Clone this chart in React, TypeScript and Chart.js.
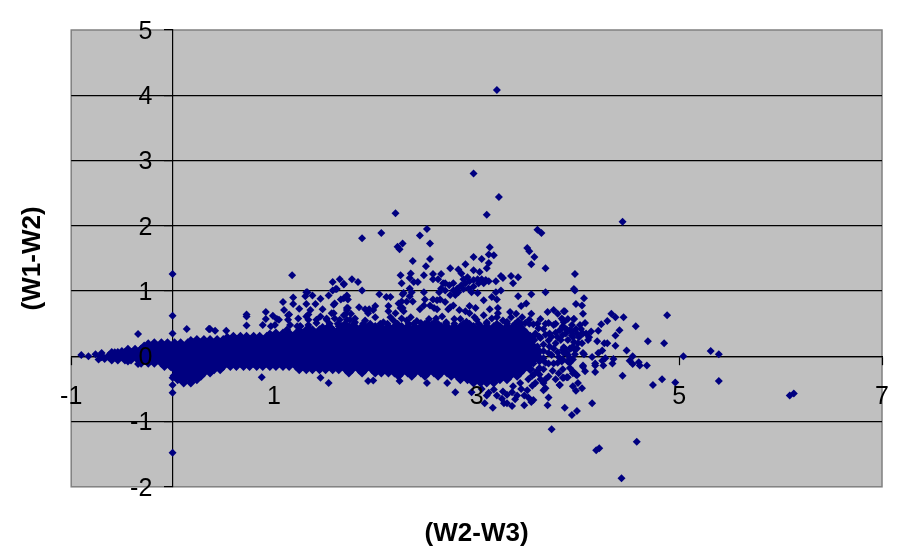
import { useEffect, useRef } from "react";
import { Chart, registerables } from "chart.js";

Chart.register(...registerables);

const xTickValues = [-1, 1, 3, 5, 7];
const xTitle = "(W2-W3)";
const yTitle = "(W1-W2)";

// Saturated core of the cloud: estimated positions, one list of x values per y level.
const coreLevels = [0.45, 0.4, 0.35, 0.3, 0.25, 0.2, 0.15, 0.1, 0.05, 0, -0.05, -0.1, -0.15, -0.2, -0.25, -0.3, -0.35, -0.4];
const coreP45 = [1.54,1.67,1.74,1.8,1.87,1.93,2,2.06,2.13,2.19,2.26,2.32,2.39,2.45,2.52,2.58,2.65,2.71,2.78,2.84,2.91,2.97,3.04,3.1,3.17,3.23,3.3,3.36,3.43];
const coreP40 = [1.32,1.38,1.45,1.51,1.58,1.64,1.71,1.77,1.84,1.9,1.97,2.03,2.1,2.16,2.23,2.29,2.36,2.42,2.49,2.55,2.62,2.68,2.75,2.81,2.88,2.94,3.01,3.07,3.14,3.2,3.27,3.33,3.4,3.46];
const coreP35 = [1.02,1.09,1.15,1.22,1.28,1.35,1.41,1.48,1.54,1.61,1.67,1.74,1.8,1.87,1.93,2,2.06,2.13,2.19,2.26,2.32,2.39,2.45,2.52,2.58,2.65,2.71,2.78,2.84,2.91,2.97,3.04,3.1,3.17,3.23,3.3,3.36,3.43,3.49];
const coreP30 = [0.6,0.67,0.73,0.8,0.86,0.93,0.99,1.06,1.12,1.19,1.25,1.32,1.38,1.45,1.51,1.58,1.64,1.71,1.77,1.84,1.9,1.97,2.03,2.1,2.16,2.23,2.29,2.36,2.42,2.49,2.55,2.62,2.68,2.75,2.81,2.88,2.94,3.01,3.07,3.14,3.2,3.27,3.33,3.4,3.46,3.53];
const coreP25 = [0.24,0.31,0.37,0.44,0.5,0.57,0.63,0.7,0.76,0.83,0.89,0.96,1.02,1.09,1.15,1.22,1.28,1.35,1.41,1.48,1.54,1.61,1.67,1.74,1.8,1.87,1.93,2,2.06,2.13,2.19,2.26,2.32,2.39,2.45,2.52,2.58,2.65,2.71,2.78,2.84,2.91,2.97,3.04,3.1,3.17,3.23,3.3,3.36,3.43,3.49,3.56];
const coreP20 = [-0.18,-0.11,-0.05,0.02,0.08,0.15,0.21,0.28,0.34,0.41,0.47,0.54,0.6,0.67,0.73,0.8,0.86,0.93,0.99,1.06,1.12,1.19,1.25,1.32,1.38,1.45,1.51,1.58,1.64,1.71,1.77,1.84,1.9,1.97,2.03,2.1,2.16,2.23,2.29,2.36,2.42,2.49,2.55,2.62,2.68,2.75,2.81,2.88,2.94,3.01,3.07,3.14,3.2,3.27,3.33,3.4,3.46,3.53];
const coreP15 = [-0.28,-0.21,-0.15,-0.08,-0.02,0.05,0.11,0.18,0.24,0.31,0.37,0.44,0.5,0.57,0.63,0.7,0.76,0.83,0.89,0.96,1.02,1.09,1.15,1.22,1.28,1.35,1.41,1.48,1.54,1.61,1.67,1.74,1.8,1.87,1.93,2,2.06,2.13,2.19,2.26,2.32,2.39,2.45,2.52,2.58,2.65,2.71,2.78,2.84,2.91,2.97,3.04,3.1,3.17,3.23,3.3,3.36,3.43,3.49,3.56];
const coreP10 = [-0.44,-0.37,-0.31,-0.24,-0.18,-0.11,-0.05,0.02,0.08,0.15,0.21,0.28,0.34,0.41,0.47,0.54,0.6,0.67,0.73,0.8,0.86,0.93,0.99,1.06,1.12,1.19,1.25,1.32,1.38,1.45,1.51,1.58,1.64,1.71,1.77,1.84,1.9,1.97,2.03,2.1,2.16,2.23,2.29,2.36,2.42,2.49,2.55,2.62,2.68,2.75,2.81,2.88,2.94,3.01,3.07,3.14,3.2,3.27,3.33,3.4,3.46,3.53,3.6];
const coreP05 = [-0.6,-0.54,-0.47,-0.41,-0.34,-0.28,-0.21,-0.15,-0.08,-0.02,0.05,0.11,0.18,0.24,0.31,0.37,0.44,0.5,0.57,0.63,0.7,0.76,0.83,0.89,0.96,1.02,1.09,1.15,1.22,1.28,1.35,1.41,1.48,1.54,1.61,1.67,1.74,1.8,1.87,1.93,2,2.06,2.13,2.19,2.26,2.32,2.39,2.45,2.52,2.58,2.65,2.71,2.78,2.84,2.91,2.97,3.04,3.1,3.17,3.23,3.3,3.36,3.43,3.49,3.56];
const coreZ00 = [-0.7,-0.63,-0.57,-0.5,-0.44,-0.37,-0.31,-0.24,-0.18,-0.11,-0.05,0.02,0.08,0.15,0.21,0.28,0.34,0.41,0.47,0.54,0.6,0.67,0.73,0.8,0.86,0.93,0.99,1.06,1.12,1.19,1.25,1.32,1.38,1.45,1.51,1.58,1.64,1.71,1.77,1.84,1.9,1.97,2.03,2.1,2.16,2.23,2.29,2.36,2.42,2.49,2.55,2.62,2.68,2.75,2.81,2.88,2.94,3.01,3.07,3.14,3.2,3.27,3.33,3.4,3.46,3.53,3.6];
const coreN05 = [-0.6,-0.54,-0.47,-0.41,-0.34,-0.28,-0.21,-0.15,-0.08,-0.02,0.05,0.11,0.18,0.24,0.31,0.37,0.44,0.5,0.57,0.63,0.7,0.76,0.83,0.89,0.96,1.02,1.09,1.15,1.22,1.28,1.35,1.41,1.48,1.54,1.61,1.67,1.74,1.8,1.87,1.93,2,2.06,2.13,2.19,2.26,2.32,2.39,2.45,2.52,2.58,2.65,2.71,2.78,2.84,2.91,2.97,3.04,3.1,3.17,3.23,3.3,3.36,3.43,3.49,3.56];
const coreN10 = [-0.31,-0.24,-0.18,-0.11,-0.05,0.02,0.08,0.15,0.21,0.28,0.34,0.41,0.47,0.54,0.6,0.67,0.73,0.8,0.86,0.93,0.99,1.06,1.12,1.19,1.25,1.32,1.38,1.45,1.51,1.58,1.64,1.71,1.77,1.84,1.9,1.97,2.03,2.1,2.16,2.23,2.29,2.36,2.42,2.49,2.55,2.62,2.68,2.75,2.81,2.88,2.94,3.01,3.07,3.14,3.2,3.27,3.33,3.4,3.46,3.53];
const coreN15 = [-0.08,-0.02,0.05,0.11,0.18,0.24,0.31,0.37,0.44,0.5,0.57,0.63,0.7,0.76,0.83,0.89,0.96,1.02,1.09,1.15,1.22,1.28,1.35,1.41,1.48,1.54,1.61,1.67,1.74,1.8,1.87,1.93,2,2.06,2.13,2.19,2.26,2.32,2.39,2.45,2.52,2.58,2.65,2.71,2.78,2.84,2.91,2.97,3.04,3.1,3.17,3.23,3.3,3.36,3.43,3.49];
const coreN20 = [0.02,0.08,0.15,0.21,0.28,0.34,0.41,0.47,1.25,1.32,1.38,1.45,1.51,1.58,1.64,1.71,1.77,1.84,1.9,1.97,2.03,2.1,2.16,2.23,2.29,2.36,2.42,2.49,2.55,2.62,2.68,2.75,2.81,2.88,2.94,3.01,3.07,3.14,3.2,3.27,3.33,3.4,3.46,3.53];
const coreN25 = [0.05,0.11,0.18,0.24,0.31,0.37,1.74,1.87,2,2.06,2.13,2.19,2.26,2.32,2.39,2.45,2.52,2.58,2.65,2.71,2.78,2.84,2.91,2.97,3.04,3.1,3.17,3.23,3.3,3.36,3.43];
const coreN30 = [0.02,0.08,0.15,0.21,0.28,2.23,2.36,2.49,2.62,2.75,2.81,2.88,2.94,3.01,3.07,3.14,3.2,3.27,3.33,3.4];
const coreN35 = [0.05,0.11,0.18,0.24,2.84,2.91,2.97,3.04,3.1,3.17,3.23,3.3];
const coreN40 = [0.11,0.18,2.97,3.04,3.1,3.17];
const coreRows = [coreP45, coreP40, coreP35, coreP30, coreP25, coreP20, coreP15, coreP10, coreP05, coreZ00, coreN05, coreN10, coreN15, coreN20, coreN25, coreN30, coreN35, coreN40];

// Thin left tail and the upper edge of the core.
const edgeX = [-0.9,-0.83,-0.76,-0.73,-0.7,-0.67,-0.63,-0.57,-0.5,-0.44,-0.37,-0.34,-0.31,-0.24,0.18,0.36,0.54,0.96,1.25,1.48,1.55,1.63,1.7,1.79,1.88,1.95,2.05,2.12,2.22,2.33,2.38,2.49,2.56,2.62,2.7,2.78,2.87,2.93,3.02,3.1,3.2,3.3,3.38,3.44,3.52,3.6,3.68,3.78];
const edgeY = [0.02,0,0.03,-0.05,0.05,-0.04,0,0.06,0.08,-0.08,0.1,-0.12,0.12,0.2,0.25,0.42,0.3,0.35,0.4,0.45,0.5,0.5,0.5,0.5,0.5,0.5,0.5,0.5,0.5,0.5,0.5,0.5,0.5,0.5,0.5,0.5,0.5,0.5,0.5,0.5,0.5,0.5,0.5,0.5,0.5,0.5,0.5,0.5];

// Individually visible points around the core.
const sparseX = [3.2,2.97,3.22,3.1,4.44,2.2,3.6,3.64,1.87,2.06,2.44,2.51,2.22,2.24,2.27,2.54,2.37,2.54,2.5,3.13,3.12,3.17,2.97,3.05,3.12,3.1,2.89,2.74,2.82,2.97,3.03,3.5,3.52,3.57,3.54,3.68,3.97,3.96,3.68,3.54,3.41,3.49,3.44,3.41,3.34,3.36,3.24,3.26,3.19,3.24,3.19,3.2,3.15,3.07,2.93,2.25,2.35,2.26,2.48,2.57,2.65,2.62,1.77,1.83,1.69,1.87,2.04,2.11,2.15,1.72,1.73,1.66,2.27,2.31,2.37,2.23,2.27,2.48,2.49,2.48,2.44,2.54,2.58,2.61,2.64,2.69,2.77,2.74,2.72,2.99,2.93,2.89,3.13,3.21,3.21,3.33,3.39,3.54,3.7,3.76,3.8,3.87,3.96,3.84,
2.77,2.81,2.85,2.89,2.93,2.97,3.01,3.05,3.09,3.12,2.82,2.87,2.92,2.97,3.02,3.07,2.95,3.01,2.87,2.85,2.91,2.77,2.73,2.69,2.65,2.69,2.63,2.67,2.57,2.34,2.38,2.42,2.34,2.36,2.28,2.34,2.26,2.57,2.61,2.74,2.79,
1.84,1.9,1.94,1.98,2,1.93,2.13,2.13,1.73,1.71,1.76,1.8,2.25,2.28,2.2,2.15,2.26,2.31,2.41,2.53,2.66,2.58,2.51,2.45,2.84,2.83,2.98,3.07,3.15,3.26,3.34,3.41,3.48,3.56,3.63,3.71,3.76,3.86,3.94,4.05,4.11,4.01,3.94,3.88,3.8,3.72,3.66,3.61,3.55,3.51,3.63,3.71,3.76,3.86,3.93,3.99,4.06,3.97,3.9,3.86,3.81,3.71,3.66,3.61,3.56,3.62,3.71,3.76,3.81,3.86,3.9,3.95,3.99,4.05,3.71,3.63,3.57,3.51,3.58,3.66,3.68,3.43,3.36,3.26,3.3,3.12,3.17,2.79,2.71,1.93,1.98,2.24,2.51,
3.7,3.56,3.54,3.47,3.35,3.16,3.08,3.27,3.3,3.38,3.47,3.51,3.66,3.71,3.82,3.74,
3.97,4.06,3.98,4.04,3.86,4.05,4.33,4.37,4.45,4.88,4.57,4.29,4.23,4.2,4.41,4.37,4.69,4.85,4.19,4.26,4.29,4.37,4.48,4.24,4.2,5.31,5.39,5.04,4.54,4.14,4.27,4.35,4.24,4.51,4.34,4.54,4.6,4.61,4.68,4.25,4.17,4.17,4.05,4.07,4.17,4.44,4.83,4.74,4.96,5.39,6.09,6.13,4.14,3.87,3.99,3.94,4.58,4.21,4.18,4.43,4.04,3.95,4,3.98,
3.85,3.9,3.96,4.02,4.07,3.85,3.89,3.94,3.99,4.04,4.08,4.13,4.1,4.04,3.95,3.85,3.87,3.92,3.97,4.05,3.89,3.92,3.92,3.84,3.95,3.98,3.89,3.85,3.82,
0,0,0,0,0,0,0,-0.34,0.14,0.37,0.42,0.53,1.18,0.73,0.73,0.73,0.92,0.92,0.99,0.89,0.97,0.88,1.46,1.54,1.09,1.19,1.19,1.32,1.38,1.46,1.54,1.58,1.65,1.69,1.61,1.32,1.41,1.25,1.1,1.15,1.24,1.05,1.34,1.48,1.6,1.69,1.59,1.72,1.42,1.52,1.65,1.75,1.16,1.26,1.34,1.46,1.57,1.67,1.75];
const sparseY = [4.08,2.8,2.44,2.17,2.06,2.19,1.94,1.89,1.81,1.89,1.85,1.95,1.68,1.64,1.73,1.73,1.46,1.49,1.38,1.67,1.56,1.55,1.52,1.49,1.43,1.35,1.41,1.35,1.33,1.32,1.29,1.66,1.61,1.52,1.41,1.35,1.26,1.03,0.98,0.95,0.92,0.81,0.77,1.21,1.23,1.12,1.23,1.2,1.15,1.01,0.98,0.87,0.91,0.86,0.77,1.24,1.27,1.12,1.24,1.26,1.26,1.18,1.18,1.14,1.1,1.01,0.95,0.91,0.91,0.93,0.87,0.87,0.95,0.84,0.84,0.81,0.74,0.98,0.87,0.78,0.72,0.78,0.74,0.72,0.87,0.83,0.78,0.75,0.72,0.74,0.66,0.69,0.72,0.74,0.66,0.68,0.65,0.65,0.68,0.71,0.65,0.69,0.57,0.58,
1.01,1.04,1.09,1.12,1.15,1.17,1.18,1.18,1.17,1.15,0.98,1.03,1.04,1.07,1.12,1.12,0.98,0.97,1.18,1.27,1.21,1.12,1.09,1.12,1.04,1.01,0.98,1.12,1.18,1.2,1.14,1.14,1.04,0.98,0.97,0.92,0.84,0.87,0.86,0.94,0.94,
0.75,0.72,0.72,0.71,0.77,0.66,0.77,0.69,0.74,0.65,0.65,0.58,0.74,0.69,0.66,0.6,0.58,0.55,0.54,0.57,0.61,0.51,0.51,0.51,0.57,0.71,0.6,0.63,0.58,0.55,0.6,0.54,0.51,0.49,0.57,0.51,0.48,0.52,0.48,0.35,0.29,0.29,0.32,0.35,0.29,0.35,0.42,0.43,0.29,0.23,0.28,0.24,0.12,0.14,0.12,0.12,0.03,0.03,0.02,0.05,-0.01,0.05,-0.03,0.05,-0.11,-0.18,-0.11,-0.11,-0.26,-0.33,-0.32,-0.26,-0.29,-0.16,-0.31,-0.35,-0.27,-0.35,-0.41,-0.41,-0.49,-0.41,-0.46,-0.54,-0.59,-0.56,-0.51,-0.55,-0.41,-0.38,-0.37,-0.38,-0.41,
-0.75,-0.67,-0.7,-0.75,-0.76,-0.79,-0.72,-0.72,-0.72,-0.66,-0.6,-0.63,-0.52,-0.63,-0.44,-1.12,
1.01,0.89,0.8,0.78,0.69,0.65,0.65,0.6,0.6,0.63,0.46,0.54,0.49,0.39,0.4,0.32,0.23,0.2,0.23,0.2,0.2,0.16,0.09,0.09,0.05,0.08,0.03,0,0,-0.01,-0.03,-0.04,-0.07,-0.07,-0.11,-0.12,-0.09,-0.14,-0.14,-0.14,-0.11,-0.14,-0.14,-0.23,-0.24,-0.3,-0.35,-0.44,-0.4,-0.38,-0.6,-0.57,-0.72,-0.79,-0.84,-0.9,-1.31,-1.41,-1.44,-1.87,-0.49,-0.46,-0.41,-0.53,
0.56,0.57,0.57,0.48,0.51,0.46,0.41,0.38,0.35,0.35,0.35,0.38,0.25,0.2,0.29,0.33,0.12,0.12,0.1,0.05,0.05,-0.03,-0.1,-0.08,-0.23,-0.28,-0.32,-0.33,-0.44,
-1.48,1.26,0.62,-0.56,-0.44,-0.33,0.35,0.34,0.42,0.42,0.39,0.39,1.24,0.64,0.61,0.47,0.68,0.57,0.62,0.48,0.46,-0.32,-0.33,-0.41,0.83,0.9,0.8,0.98,0.93,0.88,0.93,1.14,1.18,1.11,1.03,0.8,0.8,0.73,0.71,0.64,0.58,0.56,0.64,0.72,0.81,0.89,0.66,0.71,0.56,0.56,0.56,0.56,0.48,0.46,0.48,0.41,0.43,0.46,0.43];
const shoulderX = [0.36,1.03,1.01,1.31,1.33,1.58,1.62,1.14,1.14,1.23,1.32,1.36,1.34,1.59,1.72,1.72,1.57,1.52,1.46,1.6,1.69,1.42,1.54,1.64,1.72,1.26,1.13,1.36,1.8,1.9,2,2.08,2.18,2.35,2.6,2.7,2.78,2.9,3,3.1,3.2,3.3,3.45,3.52];
const shoulderY = [0.42,0.57,0.48,0.92,0.98,1.01,1.03,0.63,0.56,0.46,0.61,0.71,0.56,0.79,0.92,0.74,0.66,0.58,0.61,0.58,0.63,0.51,0.46,0.46,0.56,0.46,0.41,0.41,0.52,0.55,0.6,0.52,0.55,0.6,0.58,0.52,0.57,0.53,0.56,0.52,0.6,0.53,0.6,0.56];
const clusterX = [3.58,3.62,3.68,3.74,3.78,3.82,3.88,3.92,3.98,4.03,3.6,3.66,3.72,3.78,3.83,3.9,3.96,4,3.6,3.66,3.74,3.8,3.85,3.95,3.57,3.62,3.68,3.8,3.85,3.9,3.95,3.6,3.66,3.75,3.85,3.92,3.55,3.62,3.68,3.78,3.44,3.55,3.5,3.2,3.25,3.1,2.95,3.05,3.35,3.4];
const clusterY = [0.35,0.3,0.33,0.3,0.36,0.4,0.42,0.4,0.42,0.42,0.15,0.18,0.15,0.2,0.25,0.25,0.22,0.2,0.02,0.08,0.02,0.06,0.1,0.15,-0.05,-0.08,-0.1,-0.1,-0.05,-0.08,-0.05,-0.22,-0.2,-0.22,-0.2,-0.18,-0.3,-0.28,-0.35,-0.35,-0.5,-0.45,-0.52,-0.6,-0.65,-0.6,-0.55,-0.5,-0.55,-0.6];

export default function App() {
  const ref = useRef<HTMLCanvasElement>(null);
  useEffect(() => {
    if (!ref.current) return;
    const corePoints = coreRows.flatMap((row, i) => row.map((x) => ({ x, y: coreLevels[i] })));
    const toPoints = (xs: number[], ys: number[]) => xs.map((x, i) => ({ x, y: ys[i] }));
    const tickFont = { family: "'Liberation Sans', Arial, sans-serif", size: 25 };
    const titleFont = { family: "'Liberation Sans', Arial, sans-serif", size: 26, weight: "bold" as const };
    const plotBackground = {
      id: "plotBackground",
      beforeDraw(chart: Chart) {
        const { ctx, chartArea: a } = chart;
        ctx.save();
        ctx.fillStyle = "#C0C0C0";
        ctx.fillRect(a.left, a.top, a.width, a.height);
        ctx.strokeStyle = "#808080";
        ctx.lineWidth = 1.5;
        ctx.strokeRect(a.left, a.top, a.width, a.height);
        ctx.restore();
      },
    };
    const chart = new Chart(ref.current, {
      type: "scatter",
      data: {
        datasets: [
          {
            data: corePoints,
            pointStyle: "rectRot",
            pointRadius: 5,
            pointBorderWidth: 0,
            pointBackgroundColor: "#000080",
          },
          {
            data: [...toPoints(edgeX, edgeY), ...toPoints(sparseX, sparseY), ...toPoints(shoulderX, shoulderY), ...toPoints(clusterX, clusterY)],
            pointStyle: "rectRot",
            pointRadius: 4,
            pointBorderWidth: 0,
            pointBackgroundColor: "#000080",
          },
        ],
      },
      plugins: [plotBackground],
      options: {
        animation: false,
        responsive: false,
        devicePixelRatio: 1,
        events: [],
        layout: { padding: { left: 0, right: 28, top: 30, bottom: 9 } },
        plugins: { legend: { display: false }, tooltip: { enabled: false } },
        scales: {
          x: {
            type: "linear",
            min: -1,
            max: 7,
            position: { y: 0 },
            afterBuildTicks: (scale: any) => {
              scale.ticks = xTickValues.map((value) => ({ value }));
            },
            grid: { drawOnChartArea: false, drawTicks: true, tickLength: 8, tickColor: "#000", tickWidth: 1.2 },
            border: { display: true, color: "#000", width: 1.2 },
            ticks: { font: tickFont, color: "#000", padding: 18, autoSkip: false, maxRotation: 0, z: 1, callback: (v: any) => String(v) },
          },
          y: {
            type: "linear",
            min: -2,
            max: 5,
            position: { x: 0 },
            grid: {
              color: (c: any) => (c.tick && (c.tick.value === 5 || c.tick.value === -2) ? "rgba(0,0,0,0)" : "#000"),
              lineWidth: 1.2,
              drawTicks: true,
              tickLength: 8,
              tickColor: "#000",
              tickWidth: 1.2,
            },
            border: { display: true, color: "#000", width: 1.2 },
            ticks: { display: false, stepSize: 1 },
          },
          yLabelAxis: {
            type: "linear",
            axis: "y",
            min: -2,
            max: 5,
            position: { x: -0.2 },
            grid: { display: false },
            border: { display: false },
            ticks: { font: tickFont, color: "#000", stepSize: 1, autoSkip: false, z: 1, labelOffset: 2, callback: (v: any) => String(v) },
          },
          xTitleAxis: {
            type: "linear",
            axis: "x",
            position: "bottom",
            min: -1,
            max: 7,
            grid: { display: false },
            border: { display: false },
            ticks: { display: false },
            title: { display: true, text: xTitle, font: titleFont, color: "#000", padding: { top: 23, bottom: 0 } },
          },
          yTitleAxis: {
            type: "linear",
            axis: "y",
            position: "left",
            min: -2,
            max: 5,
            grid: { display: false },
            border: { display: false },
            ticks: { display: false },
            title: { display: true, text: yTitle, font: titleFont, color: "#000", padding: { top: 17, bottom: 15 } },
          },
        },
      },
    } as any);
    return () => chart.destroy();
  }, []);
  return <canvas ref={ref} width={910} height={558} style={{ position: "absolute", left: 0, top: 0, display: "block" }} />;
}
